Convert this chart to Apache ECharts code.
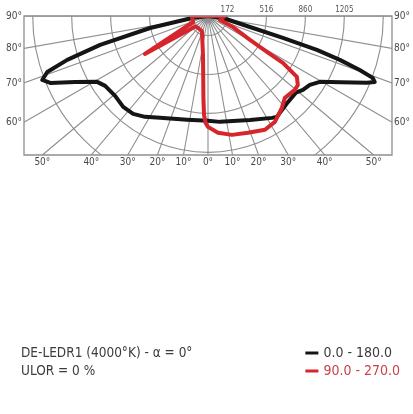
<!DOCTYPE html>
<html><head><meta charset="utf-8">
<script src="https://cdn.jsdelivr.net/npm/echarts@6/dist/echarts.min.js"></script>
<style>html,body{margin:0;padding:0;background:#fff}#c{width:413px;height:414px}</style>
</head><body><div id="c"></div>
<script>
// ---------- data (signed gamma: negative = left half, positive = right half; cd/klm) ----------
const planeNames = ['0.0 - 180.0', '90.0 - 270.0'];
const c0Gamma = [-90, -82.9, -78.3, -75, -72.7, -70.8, -68.9, -67, -63.6, -59.3, -55.8, -49.3, -43, -37.4, -32, -25.2, -11.4, 0,
                 6.5, 22, 32.1, 34.3, 42, 48.9, 52.1, 55.9, 59.5, 63.5, 67.2, 68.4, 69.4, 70.4, 71.6, 72.7, 73.7, 75.3, 82.4, 90];
const c0Cd    = [0, 142, 522, 986, 1302, 1503, 1569, 1513, 1309, 1139, 1098, 1082, 1098, 1088, 1050, 994, 935, 926,
                 941, 990, 1062, 1079, 1040, 1030, 1062, 1086, 1146, 1310, 1521, 1584, 1554, 1422, 1227, 1007, 689, 383, 133, 0];
const c90Gamma = [-180, -90, -80, -68, -59, -50, -22, -7.3, -3.1, -2.3, -1.3, 0,
                  4.9, 11.4, 18.9, 26.6, 32.3, 38.8, 43.2, 49.6, 52.5, 55.6, 56.2, 58, 58.6, 60.3, 66, 71.6, 80, 90, 180];
const c90Cd    = [0, 141, 141, 141, 650, 141, 143, 347, 742, 873, 944, 979,
                  1035, 1071, 1090, 1124, 1106, 1041, 992, 1007, 1000, 951, 902, 780, 609, 427, 241, 111, 120, 150, 0];
const radiusStep = 172;
const radiusMax = 2040;
const radiusTickLabels = ['172', '516', '860', '1205'];
const angleTickLabels = [-90, -80, -70, -60, -50, -40, -30, -20, -10, 0, 10, 20, 30, 40, 50, 60, 70, 80, 90];
const titleLines = ['DE-LEDR1 (4000°K) - α = 0°', 'ULOR = 0 %'];

// ---------- layout / style ----------
const W = 413, H = 414;
const CX = 208, CY = 16, POLAR_R = 231;
const BOX = {left: 24, right: 392, top: 16, bottom: 155};
const GRID = '#8f8f8f';
const FONT = '"Liberation Sans Narrow","DejaVu Sans Condensed","Liberation Sans",sans-serif';
const BLACK = '#151515', RED = '#d6262c';

const chart = echarts.init(document.getElementById('c'), null, {renderer: 'canvas'});

// ring colours: only odd multiples of the step (up to 9) are drawn
const nTicks = Math.floor(radiusMax / radiusStep) + 2;
const ringColors = [];
for (let i = 0; i < nTicks; i++) ringColors.push((i % 2 === 1 && i <= 9) ? GRID : 'rgba(0,0,0,0)');

function edgeLabel(g) {
  const rad = Math.abs(g) * Math.PI / 180;
  const s = Math.sin(rad), c = Math.cos(rad);
  const side = g < 0 ? -1 : 1;
  const halfW = side < 0 ? CX - BOX.left : BOX.right - CX;
  const depth = BOX.bottom - CY;
  const tSide = s > 1e-9 ? halfW / s : Infinity;
  const tBot = c > 1e-9 ? depth / c : Infinity;
  let x, y, align, va;
  if (tSide <= tBot) {
    y = CY + tSide * c; x = side < 0 ? BOX.left - 2 : BOX.right + 2;
    align = side < 0 ? 'right' : 'left'; va = 'middle';
  } else {
    x = CX + side * tBot * s; y = BOX.bottom + 2; align = 'center'; va = 'top';
  }
  return {type: 'text', x: x, y: y, z: 120,
    style: {text: Math.abs(g) + '°', fill: '#4a4a4a', fontSize: 10, fontFamily: FONT, align: align, verticalAlign: va}};
}

const graphics = [
  {type: 'rect', z: 100, shape: {x: 0, y: 0, width: W, height: BOX.top - 0.5}, style: {fill: '#fff'}},
  {type: 'rect', z: 100, shape: {x: 0, y: 0, width: BOX.left, height: H}, style: {fill: '#fff'}},
  {type: 'rect', z: 100, shape: {x: BOX.right, y: 0, width: W - BOX.right, height: H}, style: {fill: '#fff'}},
  {type: 'rect', z: 100, shape: {x: 0, y: BOX.bottom, width: W, height: H - BOX.bottom}, style: {fill: '#fff'}},
  {type: 'rect', z: 110, shape: {x: BOX.left, y: BOX.top, width: BOX.right - BOX.left, height: BOX.bottom - BOX.top},
   style: {fill: 'none', stroke: GRID, lineWidth: 1.3}}
].concat(angleTickLabels.map(edgeLabel));

const option = {
  backgroundColor: '#fff',
  animation: false,
  title: {
    z: 150, padding: 0,
    text: titleLines.join('\n'), left: 21, top: 344,
    textStyle: {fontSize: 13.5, fontWeight: 'normal', color: '#3c3c3c', fontFamily: FONT, lineHeight: 18}
  },
  legend: {
    z: 150, padding: 0,
    orient: 'vertical', right: 13, top: 344, itemGap: 0, itemWidth: 13, itemHeight: 3, icon: 'rect',
    textStyle: {fontSize: 14, fontFamily: FONT, color: '#3c3c3c', lineHeight: 18},
    data: [{name: planeNames[0]}, {name: planeNames[1], textStyle: {color: '#c8434a'}}]
  },
  polar: [
    {center: [CX, CY], radius: POLAR_R},
    {center: [CX, CY], radius: POLAR_R}
  ],
  angleAxis: [
    {polarIndex: 0, type: 'value', min: -270, max: 90, interval: 10, startAngle: 0, clockwise: false,
     axisLine: {show: false}, axisTick: {show: false}, axisLabel: {show: false},
     splitLine: {show: true, lineStyle: {color: GRID, width: 1.1}}},
    {polarIndex: 1, type: 'value', min: -270, max: 90, interval: 10, startAngle: 0, clockwise: false,
     axisLine: {show: false}, axisTick: {show: false}, axisLabel: {show: false}, splitLine: {show: false}}
  ],
  radiusAxis: [
    {polarIndex: 0, type: 'value', min: 0, max: radiusMax, interval: radiusStep,
     axisLine: {show: false}, axisTick: {show: false}, axisLabel: {show: false},
     splitLine: {show: true, lineStyle: {color: ringColors, width: 1.1}}},
    {polarIndex: 1, type: 'value', min: 0, max: radiusMax, interval: radiusStep, z: 130,
     axisLine: {show: false}, axisTick: {show: false}, splitLine: {show: false},
     axisLabel: {show: true, margin: 2, fontSize: 8, color: '#555', fontFamily: FONT,
       formatter: function (v) {
         const k = Math.round(v / radiusStep);
         if (k % 2 === 1) { const j = (k - 1) / 2; return j < radiusTickLabels.length ? radiusTickLabels[j] : ''; }
         return '';
       }}}
  ],
  series: [
    {name: planeNames[0], type: 'line', coordinateSystem: 'polar', polarIndex: 0, symbol: 'none', z: 5,
     lineStyle: {color: BLACK, width: 4, join: 'round', cap: 'round'}, itemStyle: {color: BLACK},
     data: c0Gamma.map((g, i) => [c0Cd[i], g])},
    {name: planeNames[1], type: 'line', coordinateSystem: 'polar', polarIndex: 0, symbol: 'none', z: 6,
     lineStyle: {color: RED, width: 4, join: 'round', cap: 'round'}, itemStyle: {color: RED},
     data: c90Gamma.map((g, i) => [c90Cd[i], g])}
  ],
  graphic: graphics
};
chart.setOption(option);
</script>
</body></html>
